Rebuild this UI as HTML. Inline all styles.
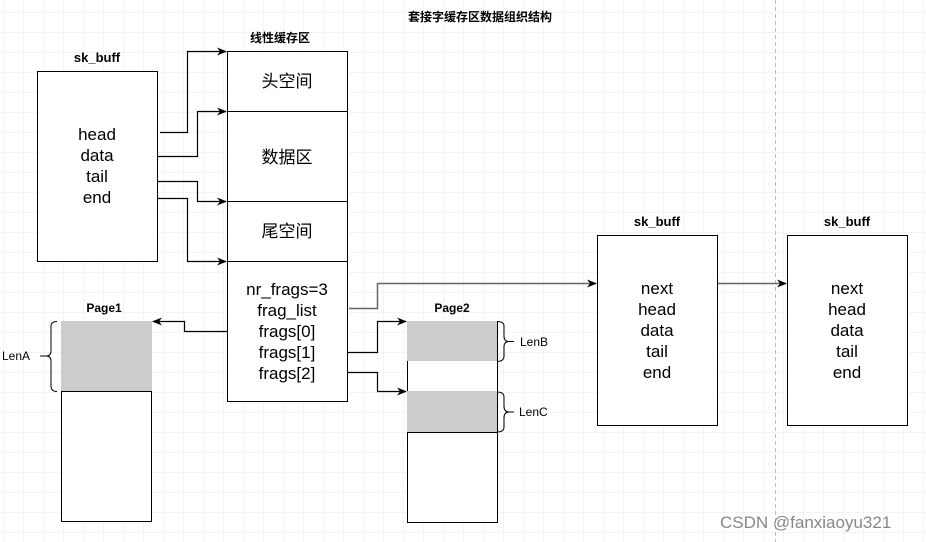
<!DOCTYPE html>
<html><head><meta charset="utf-8"><style>
html,body{margin:0;padding:0;background:#fff;}
svg{display:block;}
text{font-family:"Liberation Sans","Noto Sans CJK SC",sans-serif;}
</style></head><body>
<svg width="926" height="542" viewBox="0 0 926 542" xmlns="http://www.w3.org/2000/svg">
<defs>
<pattern id="g" x="3" y="12" width="20" height="20" patternUnits="userSpaceOnUse">
<path d="M20 0H0V20" fill="none" stroke="#e9e9e9" stroke-width="1"/>
</pattern>
<marker id="a" markerWidth="10" markerHeight="10" refX="9" refY="5" orient="auto" markerUnits="userSpaceOnUse">
<path d="M0,1 L10,5 L0,9 L3,5 Z" fill="#000"/>
</marker>
</defs>
<rect width="926" height="542" fill="url(#g)"/>
<line x1="775.5" y1="0" x2="775.5" y2="542" stroke="#bbb" stroke-dasharray="4,3"/>

<text x="480" y="21" font-size="12" font-weight="bold" text-anchor="middle">套接字缓存区数据组织结构</text>
<text x="280" y="42" font-size="12" font-weight="bold" text-anchor="middle">线性缓存区</text>
<text x="97" y="62" font-size="13" font-weight="bold" text-anchor="middle">sk_buff</text>
<text x="657" y="226" font-size="13" font-weight="bold" text-anchor="middle">sk_buff</text>
<text x="847" y="226" font-size="13" font-weight="bold" text-anchor="middle">sk_buff</text>
<text x="104" y="312" font-size="12" font-weight="bold" text-anchor="middle">Page1</text>
<text x="452" y="312" font-size="12" font-weight="bold" text-anchor="middle">Page2</text>

<g fill="#fff" stroke="#000" stroke-width="1">
<rect x="37.5" y="71.5" width="120" height="190"/>
<rect x="227.5" y="51.5" width="120" height="60"/>
<rect x="227.5" y="111.5" width="120" height="90"/>
<rect x="227.5" y="201.5" width="120" height="60"/>
<rect x="227.5" y="261.5" width="120" height="140"/>
<rect x="597.5" y="235.5" width="120" height="190"/>
<rect x="787.5" y="235.5" width="120" height="190"/>
<rect x="61.5" y="391.5" width="90" height="130"/>
<rect x="407.5" y="432.5" width="90" height="90"/>
</g>
<rect x="61" y="321" width="91" height="70" fill="#cccccc"/>
<rect x="407" y="321" width="91" height="40" fill="#cccccc"/>
<rect x="407" y="361" width="91" height="30" fill="#fff"/>
<rect x="407" y="391" width="91" height="41" fill="#cccccc"/>
<g stroke="#000" stroke-width="1">
<line x1="407.5" y1="361" x2="407.5" y2="391"/>
<line x1="497.5" y1="321" x2="497.5" y2="432"/>
</g>

<g font-size="17" text-anchor="middle">
<text x="97" y="140">head</text><text x="97" y="161">data</text><text x="97" y="182">tail</text><text x="97" y="203">end</text>
<text x="287" y="87">头空间</text><text x="287" y="163">数据区</text><text x="287" y="237">尾空间</text>
<text x="287" y="295">nr_frags=3</text><text x="287" y="316">frag_list</text><text x="287" y="337">frags[0]</text><text x="287" y="358">frags[1]</text><text x="287" y="379">frags[2]</text>
<text x="657" y="294">next</text><text x="657" y="315">head</text><text x="657" y="336">data</text><text x="657" y="357">tail</text><text x="657" y="378">end</text>
<text x="847" y="294">next</text><text x="847" y="315">head</text><text x="847" y="336">data</text><text x="847" y="357">tail</text><text x="847" y="378">end</text>
</g>

<g fill="none" stroke="#000" stroke-width="1.2">
<path d="M160 132.5H187.5V51.5H226" marker-end="url(#a)"/>
<path d="M157 156.5H197.5V111.5H226" marker-end="url(#a)"/>
<path d="M157 181.5H197.5V201.5H226" marker-end="url(#a)"/>
<path d="M157 198.5H187.5V261.5H226" marker-end="url(#a)"/>
<path d="M227 331.5H184.5V321.5H153" marker-end="url(#a)"/>
<path d="M347 352.5H377.5V321.5H406" marker-end="url(#a)"/>
<path d="M347 372.5H377.5V391.5H406" marker-end="url(#a)"/>
</g>
<g fill="none" stroke="#666" stroke-width="1.5">
<path d="M349 308.5H377.5V283.5H596" marker-end="url(#a)"/>
<path d="M718 283.5H786" marker-end="url(#a)"/>
</g>

<g fill="none" stroke="#000" stroke-width="1">
<path d="M57 321.5Q51 321.5 51 326V351Q51 356 46 356Q51 356 51 361V386Q51 391.5 57 391.5"/>
<line x1="40" y1="356" x2="46" y2="356"/>
<path d="M497 321.5Q504 321.5 504 326V336Q504 341.5 509 341.5Q504 341.5 504 347V356Q504 361.5 497 361.5"/>
<line x1="509" y1="341.5" x2="514" y2="341.5"/>
<path d="M497 392Q504 392 504 397V406Q504 412 509 412Q504 412 504 418V427Q504 432 497 432"/>
<line x1="509" y1="412" x2="514" y2="412"/>
</g>
<g font-size="12">
<text x="2" y="360">LenA</text>
<text x="520" y="346">LenB</text>
<text x="519" y="416">LenC</text>
</g>
<text x="720" y="528" font-size="17" fill="#888">CSDN @fanxiaoyu321</text>
</svg>
</body></html>
